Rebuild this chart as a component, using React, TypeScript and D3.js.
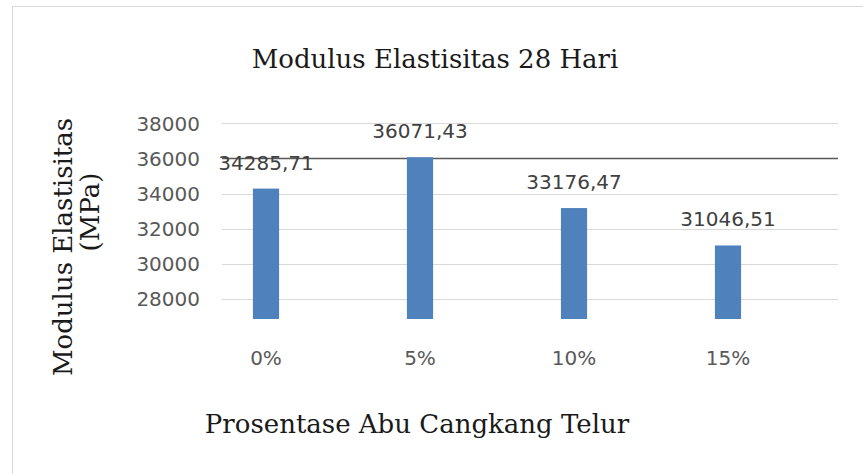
import React, { useEffect, useRef } from 'react';
import * as d3 from 'd3';

const categories = ['0%', '5%', '10%', '15%'];
const modulus = [34285.71, 36071.43, 33176.47, 31046.51];
const valueLabels = ['34285,71', '36071,43', '33176,47', '31046,51'];
const yTicks = [28000, 30000, 32000, 34000, 36000, 38000];

const W = 863;
const H = 474;

export default function App() {
  const svgRef = useRef<SVGSVGElement>(null);

  useEffect(() => {
    if (!svgRef.current) return;
    const svg = d3.select(svgRef.current);
    svg.selectAll('*').remove();

    const plotLeft = 222;
    const plotRight = 838;

    const x = d3.scaleBand<string>()
      .domain(categories)
      .range([189, 805])
      .paddingInner(0.83)
      .paddingOuter(0.415);

    const y = d3.scaleLinear()
      .domain([26860, 39500])
      .range([319, 97]);

    // chart frame
    svg.append('rect')
      .attr('x', 12.5).attr('y', 6.5)
      .attr('width', W).attr('height', H)
      .attr('fill', '#fff')
      .attr('stroke', '#d9d9d9');

    // title
    svg.append('text')
      .attr('x', 435).attr('y', 68)
      .attr('text-anchor', 'middle')
      .style('font-family', 'DejaVu Serif')
      .style('font-size', '26px')
      .attr('fill', '#1a1a1a')
      .text('Modulus Elastisitas 28 Hari');

    // gridlines
    svg.append('g')
      .selectAll('line')
      .data(yTicks)
      .enter().append('line')
      .attr('x1', plotLeft).attr('x2', plotRight)
      .attr('y1', d => Math.round(y(d)) + 0.5)
      .attr('y2', d => Math.round(y(d)) + 0.5)
      .attr('stroke', d => (d === 36000 ? '#595959' : '#d9d9d9'))
      .attr('stroke-width', d => (d === 36000 ? 1.5 : 1));

    // y tick labels
    svg.append('g')
      .selectAll('text')
      .data(yTicks)
      .enter().append('text')
      .attr('x', 200)
      .attr('y', d => y(d))
      .attr('dy', '0.36em')
      .attr('text-anchor', 'end')
      .style('font-family', 'DejaVu Sans')
      .style('font-size', '20px')
      .attr('fill', '#595959')
      .text(d => d);

    // bars
    svg.append('g')
      .selectAll('rect')
      .data(modulus)
      .enter().append('rect')
      .attr('x', (d, i) => x(categories[i])!)
      .attr('width', x.bandwidth())
      .attr('y', d => y(d))
      .attr('height', d => y(26860) - y(d))
      .attr('fill', '#4f81bd');

    // data labels
    svg.append('g')
      .selectAll('text')
      .data(modulus)
      .enter().append('text')
      .attr('x', (d, i) => x(categories[i])! + x.bandwidth() / 2)
      .attr('y', d => y(d) - 19)
      .attr('text-anchor', 'middle')
      .style('font-family', 'DejaVu Sans')
      .style('font-size', '20px')
      .attr('fill', '#404040')
      .text((d, i) => valueLabels[i]);

    // category labels
    svg.append('g')
      .selectAll('text')
      .data(categories)
      .enter().append('text')
      .attr('x', d => x(d)! + x.bandwidth() / 2)
      .attr('y', 365)
      .attr('text-anchor', 'middle')
      .style('font-family', 'DejaVu Sans')
      .style('font-size', '20px')
      .attr('fill', '#595959')
      .text(d => d);

    // axis titles
    svg.append('text')
      .attr('x', 417).attr('y', 433)
      .attr('text-anchor', 'middle')
      .style('font-family', 'DejaVu Serif')
      .style('font-size', '26px')
      .attr('fill', '#1a1a1a')
      .text('Prosentase Abu Cangkang Telur');

    const yTitle = svg.append('text')
      .attr('transform', 'translate(72,247) rotate(-90)')
      .attr('text-anchor', 'middle')
      .style('font-family', 'DejaVu Serif')
      .style('font-size', '26px')
      .attr('fill', '#1a1a1a');
    yTitle.append('tspan').attr('x', 0).attr('y', 0).text('Modulus Elastisitas');
    yTitle.append('tspan').attr('x', 35).attr('y', 27).text('(MPa)');
  }, []);

  return (
    <svg
      ref={svgRef}
      width={W}
      height={H}
      style={{ position: 'absolute', left: 0, top: 0, background: '#fff' }}
    />
  );
}
